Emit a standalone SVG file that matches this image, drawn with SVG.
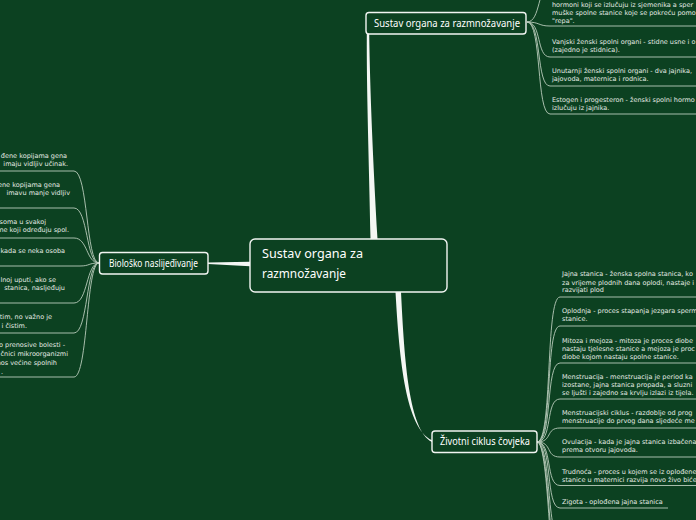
<svg xmlns="http://www.w3.org/2000/svg" width="696" height="520" viewBox="0 0 696 520">
<style>
.bg{fill:#0c4121}
.node{fill:#0c4121;stroke:#f2f5f2;stroke-width:1.4}
.title{font-family:"Noto Sans","DejaVu Sans",sans-serif;fill:#ffffff}
.t{font-family:"DejaVu Sans","Liberation Sans",sans-serif;font-size:6.5px;fill:#e4ebe4}
.lk{fill:none;stroke:#b9ccbb;stroke-width:0.9}
.main{fill:#f4f7f4}
</style>
<rect class="bg" x="0" y="0" width="696" height="520"/>
<g id="connectors">
  <path class="main" d="M370.5,239 C369,160 366.5,90 366.8,34 L369.2,34 C370,90 373,160 377.5,239 Z"/>
  <path class="main" d="M395.5,292 C399.5,362 406,428 432,440.3 L432,442 C409,430 404.5,362 401,292 Z"/>
  <path class="main" d="M250,261.8 L208,262.6 L208,264 L250,266.2 Z"/>
  <path class="lk" d="M527,22 C541,22 537,-15 551,-15 H696"/>
  <path class="lk" d="M527,22 C540,22 538,26 550,26 H696"/>
  <path class="lk" d="M527,22 C542,22 536,57 550,57 H696"/>
  <path class="lk" d="M527,22 C542,22 536,86 550,86 H696"/>
  <path class="lk" d="M527,22 C542,22 536,114 550,114 H696"/>
  <path class="lk" d="M99,263 C86,263 88,171 74,171 H0"/>
  <path class="lk" d="M99,263 C86,263 88,208 74,208 H0"/>
  <path class="lk" d="M99,263 C86,263 88,238 74,238 H0"/>
  <path class="lk" d="M99,263 C88,263 90,266 80,266 H0"/>
  <path class="lk" d="M99,263 C86,263 88,303 74,303 H0"/>
  <path class="lk" d="M99,263 C86,263 88,333 74,333 H0"/>
  <path class="lk" d="M99,263 C86,263 88,377 74,377 H0"/>
  <path class="lk" d="M537,442 C553,442 545,297 560,297 H696"/>
  <path class="lk" d="M537,442 C553,442 545,326 560,326 H696"/>
  <path class="lk" d="M537,442 C553,442 545,363 560,363 H696"/>
  <path class="lk" d="M537,442 C553,442 545,399 560,399 H696"/>
  <path class="lk" d="M537,442 C553,442 545,428 560,428 H696"/>
  <path class="lk" d="M537,442 C553,442 545,457 560,457 H696"/>
  <path class="lk" d="M537,442 C553,442 545,485.5 560,485.5 H696"/>
  <path class="lk" d="M537,442 C553,442 545,508 560,508 H668"/>
  <path class="lk" d="M537,442 C551,442 547,540 560,540 H696"/>
  <path class="lk" d="M537,442 C550,442 548,570 560,570 H696"/>
  <path class="lk" d="M537,442 C550,442 549,600 560,600 H696"/>
</g>
<g id="central">
  <rect class="node" x="250" y="239" width="197" height="53" rx="5"/>
  <text class="title" x="262" y="258" font-size="13" textLength="101" lengthAdjust="spacingAndGlyphs">Sustav organa za</text>
  <text class="title" x="262" y="278" font-size="13" textLength="84" lengthAdjust="spacingAndGlyphs">razmnožavanje</text>
</g>
<g id="n-sustav">
  <rect class="node" x="366" y="12.5" width="160" height="21.5" rx="3"/>
  <text class="title" x="374" y="26.7" font-size="10" textLength="146" lengthAdjust="spacingAndGlyphs">Sustav organa za razmnožavanje</text>
</g>
<g id="n-bio">
  <rect class="node" x="99.5" y="252.5" width="108.5" height="21.5" rx="3"/>
  <text class="title" x="109" y="267.3" font-size="10" textLength="89" lengthAdjust="spacingAndGlyphs">Biološko naslijeđivanje</text>
</g>
<g id="n-zivot">
  <rect class="node" x="432" y="431" width="105" height="21.5" rx="3"/>
  <text class="title" x="440" y="445" font-size="10" textLength="90" lengthAdjust="spacingAndGlyphs">Životni ciklus čovjeka</text>
</g>
<g id="top-items">
  <text class="t" x="552" y="7">hormoni koji se izlučuju iz sjemenika a sper</text>
  <text class="t" x="552" y="15">muške spolne stanice koje se pokreću pomo</text>
  <text class="t" x="552" y="23">"repa".</text>
  <text class="t" x="552" y="44">Vanjski ženski spolni organi - stidne usne i o</text>
  <text class="t" x="552" y="52">(zajedno je stidnica).</text>
  <text class="t" x="552" y="73">Unutarnji ženski spolni organi - dva jajnika,</text>
  <text class="t" x="552" y="81">jajovoda, maternica i rodnica.</text>
  <text class="t" x="552" y="101.5">Estogen i progesteron - ženski spolni hormo</text>
  <text class="t" x="552" y="110">izlučuju iz jajnika.</text>
</g>
<g id="left-items" text-anchor="end">
  <text class="t" x="67" y="158">đene kopijama gena</text>
  <text class="t" x="68" y="166">imaju vidljiv učinak.</text>
  <text class="t" x="60" y="187">ene kopijama gena</text>
  <text class="t" x="70" y="195">imavu manje vidljiv</text>
  <text class="t" x="46" y="224">soma u svakoj</text>
  <text class="t" x="69" y="232">ne koji određuju spol.</text>
  <text class="t" x="65" y="253">kada se neka osoba</text>
  <text class="t" x="56" y="282">lnoj uputi, ako se</text>
  <text class="t" x="65" y="290">stanica, nasljeđuju</text>
  <text class="t" x="52" y="319">tim, no važno je</text>
  <text class="t" x="27" y="328">i čistim.</text>
  <text class="t" x="65" y="347">o prenosive bolesti -</text>
  <text class="t" x="68" y="356">čnici mikroorganizmi</text>
  <text class="t" x="57" y="365">nos većine spolnih</text>
  <text class="t" x="3" y="374">.</text>
</g>
<g id="bottom-items">
  <text class="t" x="562" y="276">Jajna stanica - ženska spolna stanica, ko</text>
  <text class="t" x="562" y="284.5">za vrijeme plodnih dana oplodi, nastaje i</text>
  <text class="t" x="562" y="292">razvijati plod</text>
  <text class="t" x="562" y="313">Oplodnja - proces stapanja jezgara sperm</text>
  <text class="t" x="562" y="321">stanice.</text>
  <text class="t" x="562" y="342.5">Mitoza i mejoza - mitoza je proces diobe</text>
  <text class="t" x="562" y="350.5">nastaju tjelesne stanice a mejoza je proc</text>
  <text class="t" x="562" y="358.5">diobe kojom nastaju spolne stanice.</text>
  <text class="t" x="562" y="379">Menstruacija - menstruacija je period ka</text>
  <text class="t" x="562" y="387">izostane, jajna stanica propada, a sluzni</text>
  <text class="t" x="562" y="395">se ljušti i zajedno sa krvlju izlazi iz tijela.</text>
  <text class="t" x="562" y="414.7">Menstruacijski ciklus - razdoblje od prog</text>
  <text class="t" x="562" y="422.5">menstruacije do prvog dana sljedeće me</text>
  <text class="t" x="562" y="444">Ovulacija - kada je jajna stanica izbačena</text>
  <text class="t" x="562" y="452">prema otvoru jajovoda.</text>
  <text class="t" x="562" y="474">Trudnoća - proces u kojem se iz oplođene</text>
  <text class="t" x="562" y="482">stanice u maternici razvija novo živo biće</text>
  <text class="t" x="562" y="503.5">Zigota - oplođena jajna stanica</text>
</g>
</svg>
